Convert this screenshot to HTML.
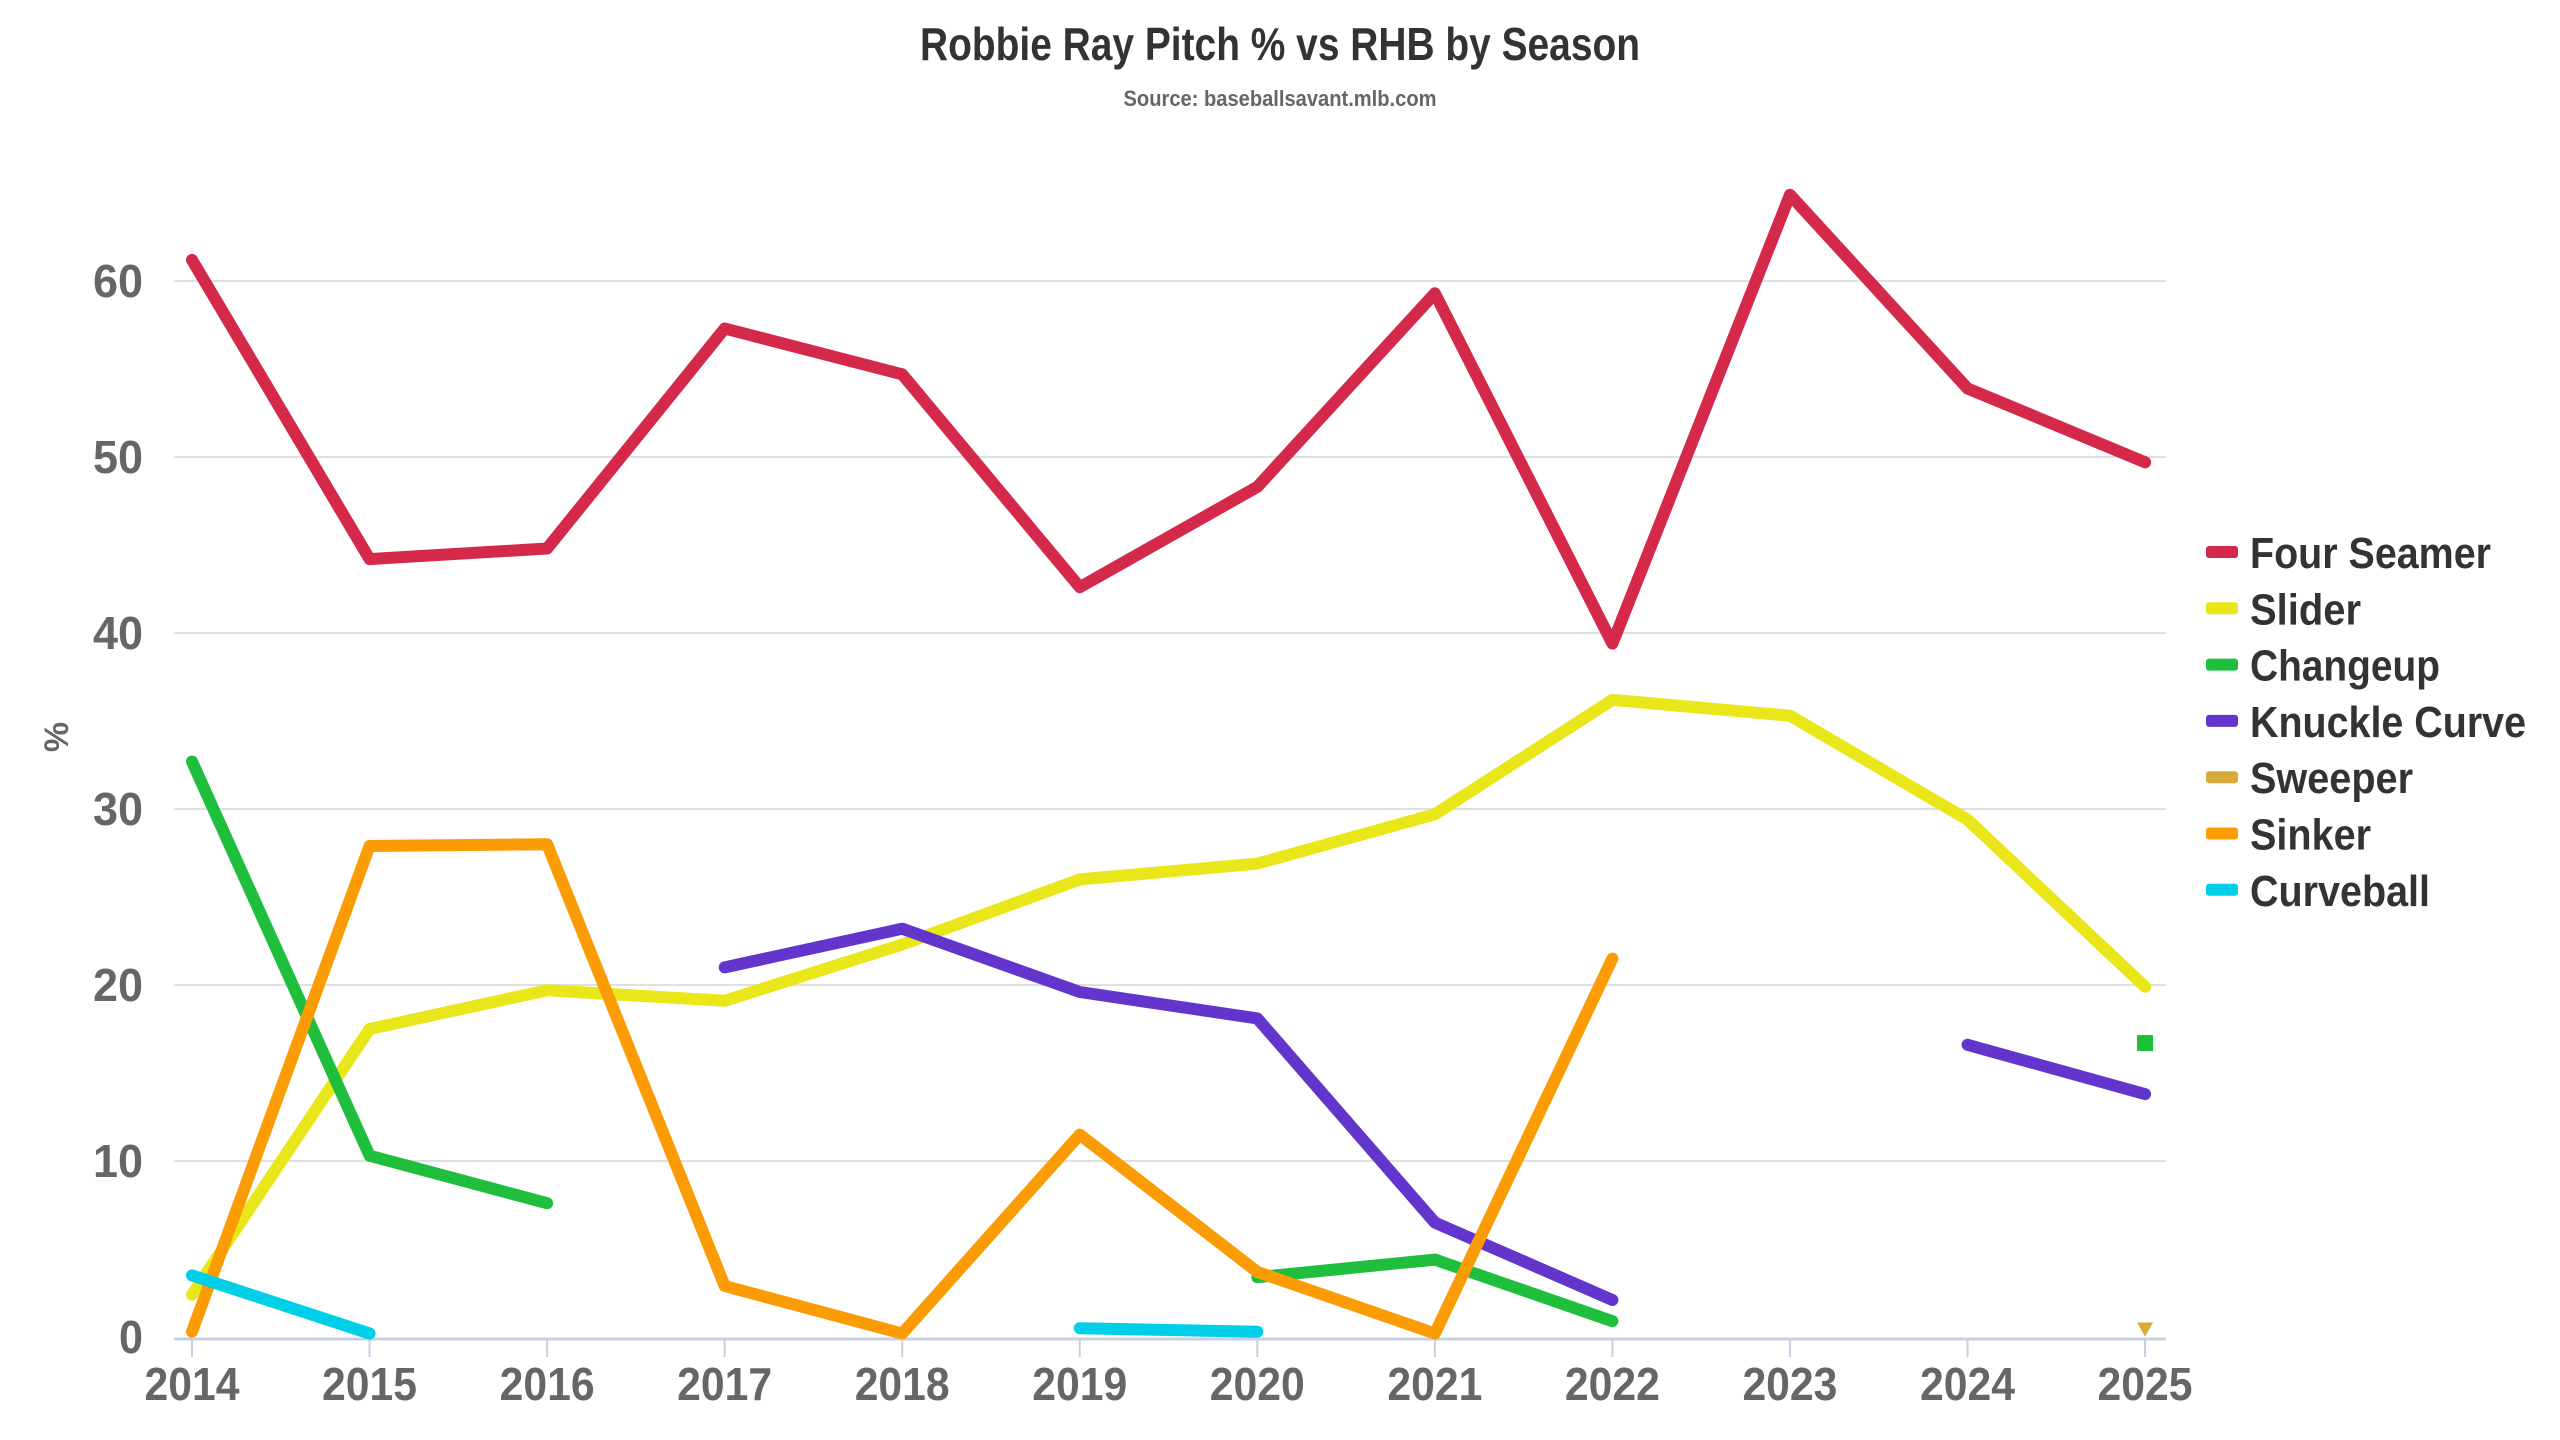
<!DOCTYPE html>
<html><head><meta charset="utf-8">
<style>
html,body{margin:0;padding:0;background:#fff;}
svg{display:block;font-family:"Liberation Sans Narrow","Liberation Sans",sans-serif;font-weight:bold;}
</style></head>
<body>
<svg id="c" width="2560" height="1440" viewBox="0 0 2560 1440" xmlns="http://www.w3.org/2000/svg">
<rect width="2560" height="1440" fill="#fff"/>
<text x="1280" y="60" text-anchor="middle" font-size="46" fill="#333" textLength="720" lengthAdjust="spacingAndGlyphs">Robbie Ray Pitch % vs RHB by Season</text>
<text x="1280" y="106" text-anchor="middle" font-size="22" fill="#666" textLength="313" lengthAdjust="spacingAndGlyphs">Source: baseballsavant.mlb.com</text>
<text transform="translate(68,737) rotate(-90)" text-anchor="middle" font-size="34" fill="#666">%</text>
<g id="grid"></g>
<g id="series"></g>
<g id="legend"></g>
</svg>
<script>
var NS="http://www.w3.org/2000/svg";
function el(t,a,p,txt){var e=document.createElementNS(NS,t);for(var k in a)e.setAttribute(k,a[k]);if(txt!==undefined)e.textContent=txt;p.appendChild(e);return e;}
var X=function(yr){return 192+(yr-2014)*177.55;};
var Y=function(v){return 1337-17.6*v;};
var g=document.getElementById('grid');
for(var v=10;v<=60;v+=10){el('line',{x1:174,x2:2166,y1:Y(v),y2:Y(v),stroke:'#e0e0e0','stroke-width':2},g);}
for(var v=0;v<=60;v+=10){el('text',{x:143,y:Y(v)+16,'text-anchor':'end','font-size':46,fill:'#666',textLength:(v==0?24:50),lengthAdjust:'spacingAndGlyphs'},g,String(v));}
el('line',{x1:174,x2:2166,y1:1339,y2:1339,stroke:'#c8d0e0','stroke-width':3},g);
for(var yr=2014;yr<=2025;yr++){el('line',{x1:X(yr),x2:X(yr),y1:1339,y2:1357,stroke:'#c8d0e0','stroke-width':2},g);
el('text',{x:X(yr),y:1400,'text-anchor':'middle','font-size':46,fill:'#666',textLength:95,lengthAdjust:'spacingAndGlyphs'},g,String(yr));}
var S=[
['Four Seamer','#d4294a',[[[2014,61.2],[2015,44.2],[2016,44.8],[2017,57.3],[2018,54.7],[2019,42.6],[2020,48.3],[2021,59.3],[2022,39.4],[2023,64.9],[2024,53.9],[2025,49.7]]],241],
['Slider','#e9e619',[[[2014,2.4],[2015,17.5],[2016,19.7],[2017,19.1],[2018,22.3],[2019,26.0],[2020,26.9],[2021,29.7],[2022,36.2],[2023,35.3],[2024,29.4],[2025,19.9]]],111],
['Changeup','#1fbe3c',[[[2014,32.7],[2015,10.3],[2016,7.6]],[[2020,3.4],[2021,4.4],[2022,0.9]]],190],
['Knuckle Curve','#6236cc',[[[2017,21.0],[2018,23.2],[2019,19.6],[2020,18.1],[2021,6.5],[2022,2.1]],[[2024,16.6],[2025,13.8]]],276],
['Sweeper','#d9a93a',[],163],
['Sinker','#fb9c04',[[[2014,0.3],[2015,27.9],[2016,28.0],[2017,2.9],[2018,0.2],[2019,11.5],[2020,3.7],[2021,0.2],[2022,21.5]]],121],
['Curveball','#00cfe8',[[[2014,3.5],[2015,0.2]],[[2019,0.5],[2020,0.3]]],180]
];
var sg=document.getElementById('series'),lg=document.getElementById('legend');
S.forEach(function(s,i){
 s[2].forEach(function(seg){
  var pts=seg.map(function(p){return X(p[0]).toFixed(1)+','+Y(p[1]).toFixed(1);}).join(' ');
  el('polyline',{points:pts,fill:'none',stroke:s[1],'stroke-width':12,'stroke-linecap':'round','stroke-linejoin':'round'},sg);
 });
 if(s[0]=='Changeup'){el('rect',{x:X(2025)-8,y:Y(16.7)-8,width:16,height:16,fill:s[1]},sg);}
 if(s[0]=='Sweeper'){var cx=X(2025),cy=Y(0.2);el('polygon',{points:(cx-8)+','+(cy-11)+' '+(cx+8)+','+(cy-11)+' '+cx+','+(cy+3),fill:s[1]},sg);}
 var ly=552+i*56.3;
 el('rect',{x:2206,y:ly-6,width:32,height:12,rx:3,fill:s[1]},lg);
 el('text',{x:2250,y:ly+16,'font-size':44,fill:'#333',textLength:s[3],lengthAdjust:'spacingAndGlyphs'},lg,s[0]);
});
</script>
</body></html>
